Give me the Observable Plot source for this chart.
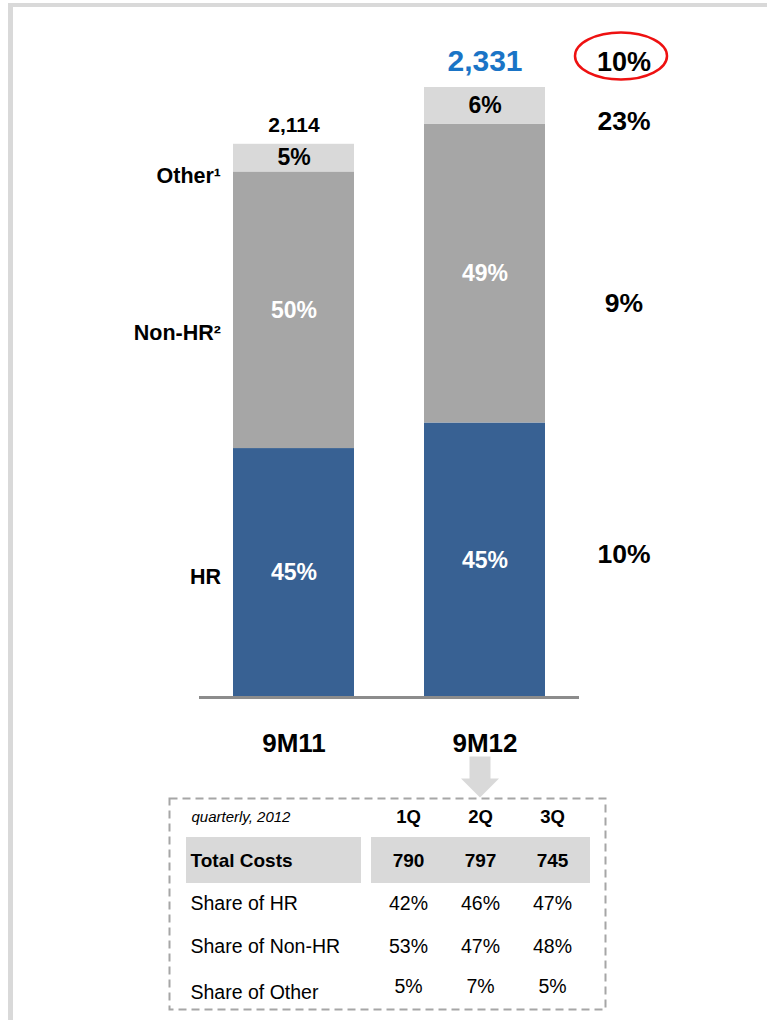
<!DOCTYPE html>
<html>
<head>
<meta charset="utf-8">
<script src="https://cdn.jsdelivr.net/npm/d3@7"></script>
<script src="https://cdn.jsdelivr.net/npm/@observablehq/plot@0.6"></script>
<style>
  html, body { margin: 0; padding: 0; background: #fff; }
  #page { position: relative; width: 767px; height: 1020px; overflow: hidden;
          font-family: "Liberation Sans", Arial, sans-serif; }
  #border { position: absolute; left: 8px; top: 3px; right: 0; bottom: 0;
            border-left: 5px solid #d9d9d9; border-top: 4px solid #d9d9d9; pointer-events: none; }
  #chart, #table { position: absolute; left: 0; }
  #chart { top: 0; }
  #table { top: 790px; }
</style>
</head>
<body>
<div id="page">
  <div id="chart"></div>
  <div id="table"></div>
  <div id="border"></div>
</div>
<script>
// Cost totals and composition
const periods = ["9M11", "9M12"];
const totals = [2114, 2331];
const segments = ["HR", "Non-HR", "Other"];
const segmentNames = ["HR", "Non-HR²", "Other¹"];
const shares9M11 = [45, 50, 5];
const shares9M12 = [45, 49, 6];
const growthTotal = "10%";
const growthBySegment = ["10%", "9%", "23%"];

// Quarterly breakdown for 2012
const tableCaption = "quarterly, 2012";
const quarters = ["1Q", "2Q", "3Q"];
const rowNames = ["Total Costs", "Share of HR", "Share of Non-HR", "Share of Other"];
const quarterTotals = [790, 797, 745];
const quarterHR = [42, 46, 47];
const quarterNonHR = [53, 47, 48];
const quarterOther = [5, 7, 5];

const FONT = '"Liberation Sans", Arial, sans-serif';
const segFill = {"HR": "#386193", "Non-HR": "#a6a6a6", "Other": "#d9d9d9"};
const segText = {"HR": "#ffffff", "Non-HR": "#ffffff", "Other": "#000000"};
const nameOffset = {"HR": 4, "Non-HR": 23, "Other": 18};
const growthOffset = {"HR": -6, "Non-HR": 30, "Other": 16};

const sharesByPeriod = [shares9M11, shares9M12];
const rows = periods.flatMap((p, i) => {
  let acc = 0;
  return segments.map((s, j) => {
    const value = totals[i] * sharesByPeriod[i][j] / 100;
    const lo = acc; acc += value;
    return {period: p, segment: s, name: segmentNames[j], share: sharesByPeriod[i][j],
            value, mid: (lo + acc) / 2, growth: growthBySegment[j]};
  });
});
const totalRows = periods.map((p, i) => ({period: p, total: totals[i]}));
const fmt = d3.format(",");

// ellipse outline drawn around the total growth figure
const ellipse = {draw(ctx) {
  const rx = 46, ry = 23.5, k = 0.5523;
  ctx.moveTo(rx, 0);
  ctx.bezierCurveTo(rx, ry * k, rx * k, ry, 0, ry);
  ctx.bezierCurveTo(-rx * k, ry, -rx, ry * k, -rx, 0);
  ctx.bezierCurveTo(-rx, -ry * k, -rx * k, -ry, 0, -ry);
  ctx.bezierCurveTo(rx * k, -ry, rx, -ry * k, rx, 0);
  ctx.closePath();
}};
// block arrow pointing down to the quarterly table
const blockArrow = {draw(ctx) {
  ctx.moveTo(-10.5, -20); ctx.lineTo(10.5, -20); ctx.lineTo(10.5, 2);
  ctx.lineTo(19, 2); ctx.lineTo(0, 21); ctx.lineTo(-19, 2); ctx.lineTo(-10.5, 2);
  ctx.closePath();
}};

const nameMarks = segments.map(s =>
  Plot.text(rows.filter(d => d.period === periods[0] && d.segment === s), {
    x: "period", y: "mid", text: "name", dx: -73, dy: nameOffset[s],
    textAnchor: "end", fontSize: 21.5, fill: "#000"
  }));
const growthMarks = segments.map(s =>
  Plot.text(rows.filter(d => d.period === periods[1] && d.segment === s), {
    x: "period", y: "mid", text: "growth", dx: 139, dy: growthOffset[s],
    fontSize: 26.5, fill: "#000"
  }));

const chart = Plot.plot({
  width: 767, height: 790,
  marginTop: 87, marginBottom: 93, marginLeft: 199, marginRight: 188,
  style: {fontFamily: FONT, fontWeight: "bold", background: "transparent", overflow: "visible"},
  x: {domain: periods, paddingInner: 0.3646, paddingOuter: 0.172, label: null},
  y: {domain: [0, d3.max(totals)], axis: null},
  color: {type: "identity"},
  marks: [
    Plot.barY(rows, {x: "period", y: "value", z: "segment", fill: d => segFill[d.segment]}),
    Plot.text(rows, {x: "period", y: "mid", text: d => d.share + "%",
      fill: d => segText[d.segment], fontSize: 23}),
    Plot.text(totalRows.filter(d => d.period === periods[0]), {
      x: "period", y: "total", text: d => fmt(d.total), dy: -19, fontSize: 21, fill: "#000"}),
    Plot.text(totalRows.filter(d => d.period === periods[1]), {
      x: "period", y: "total", text: d => fmt(d.total), dy: -26, fontSize: 30, fill: "#1a74c6"}),
    ...nameMarks,
    ...growthMarks,
    Plot.text(totalRows.filter(d => d.period === periods[1]), {
      x: "period", y: "total", text: () => growthTotal, dx: 139, dy: -25, fontSize: 27, fill: "#000"}),
    Plot.dot(totalRows.filter(d => d.period === periods[1]), {
      x: "period", y: "total", dx: 136, dy: -31.5, symbol: ellipse,
      fill: "none", stroke: "#ee1111", strokeWidth: 2.5}),
    Plot.dot(totalRows.filter(d => d.period === periods[1]), {
      x: "period", y: () => 0, dx: -5, dy: 79, symbol: blockArrow,
      fill: "#d9d9d9", stroke: "none"}),
    Plot.ruleY([0], {stroke: "#8c8c8c", strokeWidth: 3}),
    Plot.axisX({tickSize: 0, tickPadding: 36, fontSize: 26, fontWeight: "bold", fill: "#000", label: null})
  ]
});
document.getElementById("chart").append(chart);

// Quarterly table
const cells = quarters.flatMap((q, i) => [
  {q, row: rowNames[0], text: String(quarterTotals[i])},
  {q, row: rowNames[1], text: quarterHR[i] + "%"},
  {q, row: rowNames[2], text: quarterNonHR[i] + "%"},
  {q, row: rowNames[3], text: quarterOther[i] + "%"}
]);
const band = {y1: d => d, y2: d => d, insetTop: -23, insetBottom: -23, fill: "#d9d9d9"};

const table = Plot.plot({
  width: 767, height: 230,
  marginTop: 8, marginBottom: 11, marginLeft: 186, marginRight: 177,
  style: {fontFamily: FONT, background: "transparent", overflow: "visible"},
  x: {type: "point", domain: quarters, range: [408, 552], padding: 0, axis: null},
  y: {type: "point", domain: ["header", ...rowNames], range: [25, 200], padding: 0, axis: null},
  marks: [
    Plot.frame({stroke: "#a6a6a6", strokeWidth: 2, strokeDasharray: "8,5", insetLeft: -17, insetRight: -15}),
    Plot.rect([rowNames[0]], {...band, insetRight: 229}),
    Plot.rect([rowNames[0]], {...band, x1: () => quarters[0], x2: () => quarters[2], insetLeft: -37, insetRight: -38}),
    Plot.text([tableCaption], {frameAnchor: "left", y: () => "header", text: d => d, dx: 5,
      textAnchor: "start", fontStyle: "italic", fontSize: 15, fill: "#000"}),
    Plot.text(quarters, {x: d => d, y: () => "header", text: d => d, fontWeight: "bold", fontSize: 18.5, fill: "#000"}),
    Plot.text([rowNames[0]], {frameAnchor: "left", y: d => d, text: d => d, dx: 4,
      textAnchor: "start", fontWeight: "bold", fontSize: 19, fill: "#000"}),
    Plot.text(rowNames.slice(1, 3), {frameAnchor: "left", y: d => d, text: d => d, dx: 4,
      textAnchor: "start", fontSize: 19.5, fill: "#000"}),
    Plot.text(rowNames.slice(3), {frameAnchor: "left", y: d => d, text: d => d, dx: 4, dy: 3,
      textAnchor: "start", fontSize: 19.5, fill: "#000"}),
    Plot.text(cells.filter(d => d.row === rowNames[0]), {x: "q", y: "row", text: "text",
      fontWeight: "bold", fontSize: 19, fill: "#000"}),
    Plot.text(cells.filter(d => d.row === rowNames[1] || d.row === rowNames[2]), {x: "q", y: "row", text: "text",
      fontSize: 19.5, fill: "#000"}),
    Plot.text(cells.filter(d => d.row === rowNames[3]), {x: "q", y: "row", text: "text", dy: -3,
      fontSize: 19.5, fill: "#000"})
  ]
});
document.getElementById("table").append(table);
</script>
</body>
</html>
